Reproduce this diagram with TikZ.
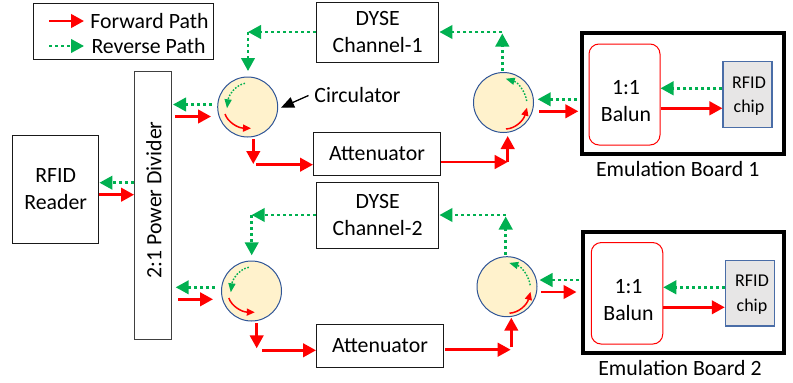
\documentclass[tikz,border=0pt]{standalone}
\usepackage{fontspec}
\setmainfont{Carlito}
\usetikzlibrary{arrows.meta}
\definecolor{fwd}{HTML}{FF0000}
\definecolor{rev}{HTML}{00B050}
\definecolor{circfill}{HTML}{FFF2CC}
\definecolor{circline}{HTML}{2F5597}
\definecolor{chipfill}{HTML}{E7E6E6}
\definecolor{chipline}{HTML}{4A6DA7}
\tikzset{
  fwdarrow/.style={draw=fwd,line width=2.7pt,-{Triangle[length=13pt,width=13.5pt]}},
  revarrow/.style={draw=rev,line width=2.6pt,dash pattern=on 3pt off 3pt,-{Triangle[length=13pt,width=13.5pt]}},
  fwdin/.style={draw=fwd,line width=1.5pt,-{Triangle[length=8pt,width=7pt]}},
  revin/.style={draw=rev,line width=1.4pt,dash pattern=on 1.6pt off 1.6pt,-{Triangle[length=9pt,width=7pt]}},
  blockbox/.style={draw=black!90,line width=1pt,inner sep=0pt,align=center,font=\fontsize{21.8}{26.5}\selectfont},
  circ/.style={circle,draw=circline,fill=circfill,line width=1pt,minimum size=60pt,inner sep=0pt},
  board/.style={draw=black,line width=4pt,inner sep=0pt},
  balun/.style={draw=fwd,rounded corners=10pt,line width=1pt,inner sep=0pt},
  chip/.style={draw=chipline,fill=chipfill,line width=1.1pt,inner sep=0pt},
  label text/.style={inner sep=0pt,align=center,font=\fontsize{21.8}{26.5}\selectfont},
  chip text/.style={inner sep=0pt,align=center,font=\fontsize{18}{24.5}\selectfont},
}
\begin{document}
\begin{tikzpicture}[x=1pt,y=-1pt]
\useasboundingbox (0,0) rectangle (793,383);
% legend
\node[draw=black!90,line width=1pt,minimum width=180pt,minimum height=56.5pt,inner sep=0pt] (legend) at (123.5,31.7) {};
\node[label text] (lf) at (149.5,21) {Forward Path};
\node[label text] (lr) at (148.5,46) {Reverse Path};
\coordinate (lfa) at (49,21); \coordinate (lfb) at (84,21);
\coordinate (lra) at (49,46); \coordinate (lrb) at (84,46);
\draw[fwdarrow] (lfa) -- (lfb);
\draw[revarrow] (lra) -- (lrb);
% blocks
\node[blockbox,minimum width=86.5pt,minimum height=108pt] (reader) at (55.7,189) {RFID\\Reader};
\node[blockbox,draw=black!75,minimum width=36.5pt,minimum height=268pt] (pd) at (152.8,205) {};
\node[label text,rotate=90] (pdt) at (154,200) {2:1 Power Divider};
\node[blockbox,minimum width=122.5pt,minimum height=60pt] (dyse1) at (377.7,32) {DYSE\\Channel-1};
\node[blockbox,minimum width=127pt,minimum height=42.5pt] (att1) at (377,154) {Attenuator};
\node[blockbox,minimum width=122.5pt,minimum height=66pt] (dyse2) at (377.7,215) {DYSE\\Channel-2};
\node[blockbox,minimum width=127pt,minimum height=43pt] (att2) at (380,345.5) {Attenuator};
% circulators
\node[circ] (c1) at (247.7,107) {};
\node[circ] (c2) at (503.5,102.5) {};
\node[circ] (c3) at (251.5,291) {};
\node[circ] (c4) at (507,286.7) {};
% boards
\node[board,minimum width=202pt,minimum height=121pt] (b1) at (682.8,93.5) {};
\node[board,minimum width=201.5pt,minimum height=121pt] (b2) at (683.3,292.5) {};
\node[balun,minimum width=71pt,minimum height=101pt] (bal1) at (624.5,94.5) {};
\node[balun,minimum width=71.5pt,minimum height=101.5pt] (bal2) at (627,293.3) {};
\node[label text] (bt1) at (626,101) {1:1\\Balun};
\node[label text] (bt2) at (628.5,300) {1:1\\Balun};
\node[chip,minimum width=49pt,minimum height=65.5pt] (ch1) at (747.5,94.3) {};
\node[chip,minimum width=49.4pt,minimum height=65.5pt] (ch2) at (750,293.2) {};
\node[chip text] (ct1) at (749,96) {RFID\\chip};
\node[chip text] (ct2) at (752,294.5) {RFID\\chip};
\node[label text] (e1) at (677.7,169) {Emulation Board 1};
\node[label text] (e2) at (680,368) {Emulation Board 2};
% circulator callout
\node[label text] (cl) at (357.5,95) {Circulator};
\coordinate (cla) at (308.5,95.5); \coordinate (clb) at (281,107.7);
\draw[black,line width=1.3pt,-{Triangle[length=13pt,width=11pt]}] (cla) -- (clb);
% upper branch
\coordinate (k1) at (248,32);
\draw[revarrow] (dyse1.west |- k1) -- (k1);
\coordinate (k1t) at (248,71);
\draw[revarrow] (k1) -- (k1t);
\coordinate (a1) at (212,104.5); \coordinate (a1t) at (173,104.5);
\draw[revarrow] (a1) -- (a1t);
\coordinate (a2) at (175,116.5); \coordinate (a2t) at (211,116.5);
\draw[fwdarrow] (a2) -- (a2t);
\coordinate (a3) at (253.3,139); \coordinate (a3t) at (253.3,164);
\draw[fwdarrow] (a3) -- (a3t);
\coordinate (a4) at (256,164.7);
\draw[fwdarrow] (a4) -- (att1.west |- a4);
\coordinate (k2) at (507.7,162);
\draw[fwdarrow] (att1.east |- k2) -- (k2);
\coordinate (k2t) at (507.7,136);
\draw[fwdarrow] (k2) -- (k2t);
\coordinate (k3) at (502.3,32); \coordinate (a5) at (502.3,71); \coordinate (a5t) at (502.3,33.5);
\draw[revarrow] (a5) -- (a5t);
\draw[revarrow] (k3) -- (dyse1.east |- k3);
\coordinate (a6) at (576.7,99.3); \coordinate (a6t) at (537.7,99.3);
\draw[revarrow] (a6) -- (a6t);
\coordinate (a7) at (539.3,111.3); \coordinate (a7t) at (578.3,111.3);
\draw[fwdarrow] (a7) -- (a7t);
\coordinate (a8) at (723,88.3);
\draw[revarrow] (ch1.west |- a8) -- (bal1.east |- a8);
\coordinate (a9) at (660,108.3);
\draw[fwdarrow] (bal1.east |- a9) -- (ch1.west |- a9);
% reader
\coordinate (r1) at (133,182.7); \coordinate (r2) at (99.5,194.7);
\draw[revarrow] (pd.west |- r1) -- (reader.east |- r1);
\draw[fwdarrow] (reader.east |- r2) -- (pd.west |- r2);
% lower branch
\coordinate (k4) at (251.7,215);
\draw[revarrow] (dyse2.west |- k4) -- (k4);
\coordinate (k4t) at (251.7,255.3);
\draw[revarrow] (k4) -- (k4t);
\coordinate (b1a) at (215,287.3); \coordinate (b1t) at (175.7,287.3);
\draw[revarrow] (b1a) -- (b1t);
\coordinate (b2a) at (178,299.3); \coordinate (b2t) at (213,299.3);
\draw[fwdarrow] (b2a) -- (b2t);
\coordinate (b3a) at (256.7,323.3); \coordinate (b3t) at (256.7,348.3);
\draw[fwdarrow] (b3a) -- (b3t);
\coordinate (b4a) at (262.3,350.3);
\draw[fwdarrow] (b4a) -- (att2.west |- b4a);
\coordinate (b5a) at (445,349.7); \coordinate (b5t) at (510.7,349.7);
\draw[fwdarrow] (b5a) -- (b5t);
\coordinate (b6a) at (511.3,347.3); \coordinate (b6t) at (511.3,317.7);
\draw[fwdarrow] (b6a) -- (b6t);
\coordinate (b7a) at (505.7,255); \coordinate (b7t) at (505.7,216.5);
\draw[revarrow] (b7a) -- (b7t);
\coordinate (k5) at (505.7,215);
\draw[revarrow] (k5) -- (dyse2.east |- k5);
\coordinate (b8a) at (579,280); \coordinate (b8t) at (539.5,280);
\draw[revarrow] (b8a) -- (b8t);
\coordinate (b9a) at (541.3,292); \coordinate (b9t) at (576.5,292);
\draw[fwdarrow] (b9a) -- (b9t);
\coordinate (b10) at (725,287.3);
\draw[revarrow] (ch2.west |- b10) -- (bal2.east |- b10);
\coordinate (b11) at (663,307.3);
\draw[fwdarrow] (bal2.east |- b11) -- (ch2.west |- b11);
% inside circulators
\foreach \cn in {c1,c3}{
  \draw[revin] ([shift={(-2.7,-23.7)}]\cn.center) .. controls ([shift={(-12,-22)}]\cn.center) and ([shift={(-19,-12)}]\cn.center) .. ([shift={(-20.7,1.3)}]\cn.center);
  \draw[fwdin] ([shift={(-22.7,7)}]\cn.center) .. controls ([shift={(-20,15)}]\cn.center) and ([shift={(-10,21)}]\cn.center) .. ([shift={(3.3,21.3)}]\cn.center);
}
\foreach \cn in {c2,c4}{
  \draw[revin] ([shift={(23.2,-1.5)}]\cn.center) .. controls ([shift={(22,-10)}]\cn.center) and ([shift={(15,-20)}]\cn.center) .. ([shift={(2.2,-23.8)}]\cn.center);
  \draw[fwdin] ([shift={(2.5,26.5)}]\cn.center) .. controls ([shift={(12,26)}]\cn.center) and ([shift={(20,18)}]\cn.center) .. ([shift={(23.5,5.2)}]\cn.center);
}
\end{tikzpicture}
\end{document}
